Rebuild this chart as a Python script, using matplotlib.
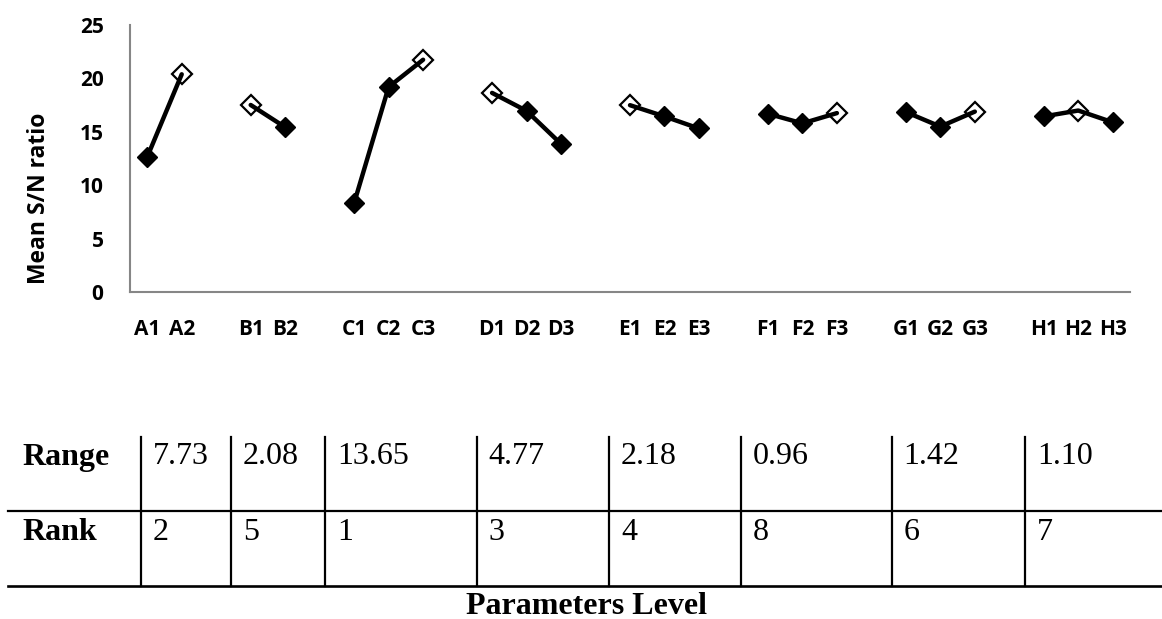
import matplotlib.pyplot as plt
import numpy as np

# Mean S/N ratio for each parameter level
groups = ['A', 'B', 'C', 'D', 'E', 'F', 'G', 'H']
sn_values = [
    [12.66, 20.39],
    [17.52, 15.44],
    [8.35, 19.2, 21.75],
    [18.65, 16.97, 13.88],
    [17.5, 16.45, 15.32],
    [16.7, 15.8, 16.76],
    [16.86, 15.5, 16.9],
    [16.45, 17.0, 15.9],
]
range_vals = ['7.73', '2.08', '13.65', '4.77', '2.18', '0.96', '1.42', '1.10']
rank_vals = ['2', '5', '1', '3', '4', '8', '6', '7']

fig = plt.figure(figsize=(11.62, 6.19), dpi=100)
ax = fig.add_axes([130 / 1162, 1 - 292.3 / 619, 1000 / 1162, 267.3 / 619])

tick_pos = []
tick_lab = []
start = 0
for g, vals in zip(groups, sn_values):
    x = np.arange(start, start + len(vals))
    ax.plot(x, vals, color='black', lw=3.2, solid_capstyle='round', zorder=2)
    best = int(np.argmax(vals))
    for i, (xi, v) in enumerate(zip(x, vals)):
        if i == best:
            ax.plot(xi, v, marker='D', ms=10, mfc='none', mec='black', mew=1.6, zorder=3)
        else:
            ax.plot(xi, v, marker='D', ms=10, mfc='black', mec='black', zorder=3)
    tick_pos += list(x)
    tick_lab += [f'{g}{i + 1}' for i in range(len(vals))]
    start += len(vals) + 1

ax.set_xlim(-0.5, start - 1.5)
ax.set_ylim(0, 25)
ax.set_yticks(range(0, 26, 5))
ax.set_xticks(tick_pos)
ax.set_xticklabels(tick_lab)
for s in ['top', 'right']:
    ax.spines[s].set_visible(False)
for s in ['left', 'bottom']:
    ax.spines[s].set_color('#868686')
    ax.spines[s].set_linewidth(1.5)
ax.tick_params(length=0)
ax.tick_params(axis='y', pad=19)
ax.tick_params(axis='x', pad=19)
for lab in ax.get_xticklabels() + ax.get_yticklabels():
    lab.set_fontfamily('Open Sans')
    lab.set_fontweight('bold')
    lab.set_fontsize(15)
ax.set_ylabel('Mean S/N ratio', family='Open Sans', fontweight='bold', fontsize=16.5)
ax.yaxis.set_label_coords(-0.079, 0.35)

# Range / Rank table drawn in pixel coordinates
tab = fig.add_axes([0, 0, 1, 1])
tab.set_xlim(0, 1162)
tab.set_ylim(619, 0)
tab.axis('off')

col_edges = [141, 231, 325, 476.7, 609, 741, 891.7, 1025]
tab.plot([8, 1162], [511, 511], color='black', lw=1.6)
tab.plot([8, 1162], [586, 586], color='black', lw=1.9)
for xe in col_edges:
    tab.plot([xe, xe], [436.7, 586], color='black', lw=1.6)

serif = 'Liberation Serif'
tab.text(22, 457, 'Range', family=serif, fontweight='bold', fontsize=23, va='center')
tab.text(22, 532, 'Rank', family=serif, fontweight='bold', fontsize=23, va='center')
for xe, r, k in zip(col_edges, range_vals, rank_vals):
    tab.text(xe + 12, 457, r, family=serif, fontsize=23, va='center')
    tab.text(xe + 12, 532, k, family=serif, fontsize=23, va='center')
tab.text(586, 606, 'Parameters Level', family=serif, fontweight='bold', fontsize=23,
         ha='center', va='center')

fig.savefig('out.png', dpi=100)
